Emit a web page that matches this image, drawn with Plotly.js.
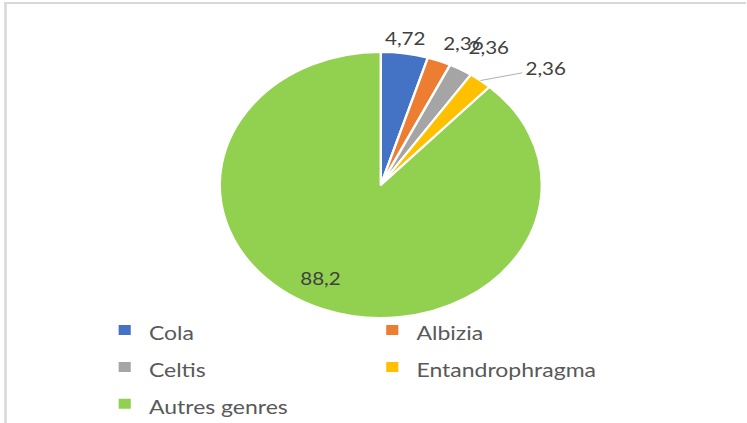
<!DOCTYPE html>
<html>
<head>
<meta charset="utf-8">
<script src="https://cdn.plot.ly/plotly-3.0.1.min.js"></script>
<style>
  html, body { margin: 0; padding: 0; background: #fff; overflow: hidden; }
  #wrap { width: 747px; height: 423px; overflow: hidden; }
  #chart { width: 617px; height: 423px; transform: scaleX(1.2107); transform-origin: 0 0; }
</style>
</head>
<body>
<div id="wrap"><div id="chart"></div></div>
<script>
// ---- data ----
const genres = ["Cola", "Albizia", "Celtis", "Entandrophragma", "Autres genres"];
const values = [4.72, 2.36, 2.36, 2.36, 88.2];
const valueLabels = ["4,72", "2,36", "2,36", "2,36", "88,2"];

// ---- style ----
const colors = ["#4472C4", "#ED7D31", "#A5A5A5", "#FFC000", "#92D050"];
const labelInside = [false, false, false, false, true];
const labelDist = [1.03, 1.05, 1.09, 1.0, 0.8];      // fraction of radius
const leaderOffset = [null, null, null, [54, -12], null]; // px offset of label with leader line

const W = 617, H = 423;
const dom = { x: [0.2942, 0.7253], y: [0.2482, 0.8771] };
const cx = (dom.x[0] + dom.x[1]) / 2;
const cy = (dom.y[0] + dom.y[1]) / 2;
const rpx = Math.min((dom.x[1] - dom.x[0]) * W, (dom.y[1] - dom.y[0]) * H) / 2;
const total = values.reduce((a, b) => a + b, 0);

const labelFont = { family: "Lato, sans-serif", size: 17, color: "#404040" };
const annotations = [];
let cum = 0;
values.forEach((v, i) => {
  const th = 2 * Math.PI * (cum + v / 2) / total;
  cum += v;
  const k = labelDist[i];
  const s = Math.sin(th), c = Math.cos(th);
  const a = {
    xref: "paper", yref: "paper",
    x: cx + k * rpx * s / W,
    y: cy + k * rpx * c / H,
    text: valueLabels[i],
    font: labelFont,
    borderpad: 0
  };
  if (leaderOffset[i]) {
    Object.assign(a, {
      showarrow: true, arrowhead: 0, arrowwidth: 0.8, arrowcolor: "#a6a6a6",
      standoff: 0, startstandoff: 2,
      ax: leaderOffset[i][0], ay: leaderOffset[i][1]
    });
  } else if (labelInside[i]) {
    Object.assign(a, { showarrow: false, xanchor: "center", yanchor: "middle", xshift: -11, yshift: 6 });
  } else {
    Object.assign(a, { showarrow: false, xanchor: s < 0.2 ? "center" : "left", yanchor: "bottom" });
  }
  annotations.push(a);
});

const trace = {
  type: "pie",
  labels: genres.map(g => '<span style="font-size:19px">' + g + '</span>'),
  values: values,
  textinfo: "none",
  sort: false,
  direction: "clockwise",
  rotation: 0,
  marker: { colors: colors, line: { color: "#ffffff", width: 2 } },
  domain: dom,
  hoverinfo: "none"
};

const layout = {
  width: W,
  height: H,
  margin: { l: 0, r: 0, t: 0, b: 0, autoexpand: false },
  paper_bgcolor: "#ffffff",
  showlegend: true,
  legend: {
    orientation: "h",
    x: 83 / W, xanchor: "left",
    y: 0.275, yanchor: "top",
    entrywidth: 176, entrywidthmode: "pixels",
    font: { family: "Lato, sans-serif", size: 26, color: "#595959" },
    bgcolor: "rgba(0,0,0,0)",
    traceorder: "normal"
  },
  annotations: annotations,
  shapes: [
    { type: "line", xref: "paper", yref: "paper", x0: 4/747, x1: 746/747, y0: 1 - 3/423, y1: 1 - 3/423,
      line: { color: "#d9d9d9", width: 2 } },
    { type: "line", xref: "paper", yref: "paper", x0: 5.5/747, x1: 5.5/747, y0: 0, y1: 1 - 2/423,
      line: { color: "#d9d9d9", width: 2.2 } }
  ]
};

Plotly.newPlot("chart", [trace], layout, { displayModeBar: false, staticPlot: true });
</script>
</body>
</html>
